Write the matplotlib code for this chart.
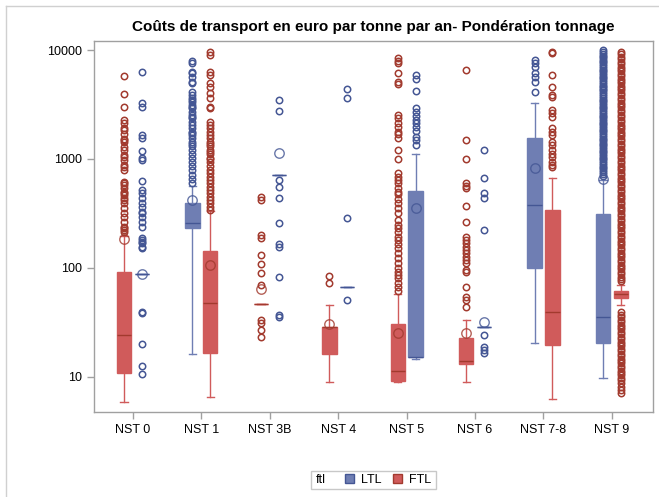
import matplotlib
matplotlib.use("Agg")
import matplotlib.pyplot as plt
from matplotlib.patches import Patch, Rectangle
from matplotlib.lines import Line2D

plt.rcParams['font.family'] = ['Liberation Sans', 'DejaVu Sans']

categories = ['NST 0', 'NST 1', 'NST 3B', 'NST 4', 'NST 5', 'NST 6', 'NST 7-8', 'NST 9']
# which group SAS drew on the left of each category
ltl_first = [False, True, False, False, False, False, True, True]

# LTL box statistics
ltl_q1 = [87, 234, 711, 66.3, 15.3, 28.8, 98.9, 20.6]
ltl_med = [87, 256, 711, 66.3, 15.3, 28.8, 378, 35.6]
ltl_q3 = [87, 396, 711, 66.3, 507, 28.8, 1570, 310]
ltl_lo = [87, 16.1, 711, 66.3, 14.6, 28.8, 20.6, 9.8]
ltl_hi = [87, 560, 711, 66.3, 1120, 28.8, 3240, 640]
ltl_mean = [87, 420, 1140, None, 352, 32, 832, 650]
ltl_fliers = [
    [6320, 3240, 3020, 1660, 1570, 1180, 1010, 977, 631, 518, 483, 435, 391, 365, 328,
     316, 295, 265, 235, 187, 180, 174, 168, 156, 151, 39.5, 38.2, 20.2, 12.5, 10.7],
    [7980, 7550, 6320, 6110, 5690, 5120, 4940, 4150, 3870, 3600, 3480, 3360, 3130, 3020,
     2920, 2720, 2530, 2440, 2360, 2200, 2050, 1910, 1780, 1720, 1660, 1550, 1440, 1380,
     1310, 1210, 1120, 1030, 944, 861, 791, 711, 650, 597],
    [3480, 2770, 640, 556, 435, 256, 166, 154, 83, 36.9, 35.1],
    [4350, 3600, 285, 50.6],
    [5900, 5380, 4240, 2920, 2720, 2480, 2280, 2120, 1950, 1810, 1600, 1490, 1340],
    [1210, 673, 490, 435, 222, 24.2, 18.9, 17.6, 16.6],
    [8090, 7650, 7030, 6200, 5690, 5120, 4150],
    [9900, 9550, 9200, 8900, 8600, 8300, 8000, 7700, 7400, 7100, 6850, 6600, 6350, 6100,
     5900, 5700, 5500, 5300, 5100, 4900, 4700, 4550, 4400, 4250, 4100, 3950, 3800, 3650,
     3500, 3380, 3260, 3140, 3020, 2910, 2800, 2700, 2600, 2500, 2410, 2320, 2240, 2160,
     2080, 2000, 1930, 1860, 1790, 1720, 1660, 1600, 1540, 1480, 1430, 1380, 1330, 1280,
     1230, 1190, 1150, 1110, 1070, 1030, 990, 955, 920, 885, 850, 820, 790, 760, 730, 700],
]

# FTL box statistics
ftl_q1 = [10.9, 16.4, 47, 16.1, 9.2, 13.1, 19.4, 52.5]
ftl_med = [24, 47.2, 47, 28.4, 11.3, 13.9, 39.5, 57]
ftl_q3 = [91, 143, 47, 28.4, 30.7, 22.9, 340, 61.7]
ftl_lo = [5.9, 6.5, 47, 9.0, 9.0, 9.0, 6.3, 45.6]
ftl_hi = [195, 330, 47, 45.6, 58, 33.2, 664, 69.5]
ftl_mean = [184, 106, 63.5, 30.5, 25.3, 25, None, None]
ftl_fliers = [
    [5770, 3920, 3020, 2280, 2120, 1910, 1840, 1680, 1520, 1490, 1440, 1280, 1210, 1090,
     1050, 977, 880, 849, 791, 618, 597, 576, 537, 500, 483, 467, 435, 420, 391, 352, 316,
     295, 265, 239, 230, 222, 215],
    [9660, 9000, 6320, 5900, 4940, 4600, 4000, 3600, 3020, 2920, 2200, 2050, 1910, 1780,
     1660, 1550, 1440, 1380, 1310, 1210, 1160, 1120, 1030, 990, 944, 861, 791, 738, 687,
     640, 597, 556, 518, 483, 450, 420, 391, 365, 340],
    [450, 420, 200, 187, 131, 108, 89, 69.5, 33, 31.5, 27, 23.3],
    [84, 73],
    [8390, 7980, 7550, 6110, 5120, 4840, 2530, 2360, 2120, 1950, 1780, 1680, 1570, 1210,
     991, 738, 687, 640, 597, 537, 500, 473, 426, 391, 352, 316, 275, 247, 230, 215, 193,
     180, 166, 151, 136, 122, 110, 98.9, 92.1, 85.8, 80, 73, 67.1, 61.7],
    [6540, 1490, 998, 605, 564, 537, 370, 265, 191, 180, 168, 156, 146, 136, 127, 118, 110,
     95.5, 92, 67, 53.6, 50.6, 43.4],
    [9660, 9320, 5900, 4600, 3870, 3680, 2810, 2620, 2440, 1910, 1780, 1660, 1440, 1340,
     1210, 1120, 1050, 944, 880, 849],
    [9600, 9100, 8650, 8200, 7800, 7400, 7050, 6700, 6350, 6050, 5750, 5450, 5200, 4950,
     4700, 4450, 4250, 4030, 3830, 3640, 3460, 3290, 3120, 2970, 2820, 2680, 2550, 2420,
     2300, 2180, 2070, 1970, 1870, 1780, 1690, 1610, 1530, 1450, 1380, 1310, 1245, 1185,
     1125, 1070, 1015, 965, 915, 870, 825, 785, 745, 710, 675, 640, 610, 580, 550, 522,
     496, 471, 448, 425, 404, 384, 365, 347, 330, 313, 298, 283, 269, 255, 243, 231, 219,
     208, 198, 188, 178, 170, 161, 153, 145, 138, 131, 125, 119, 113, 107, 102, 97, 92, 87,
     83, 79, 75,
     39, 37, 35.2, 33.4, 31.7, 30.1, 28.6, 27.2, 25.8, 24.5, 23.3, 22.1, 21, 20, 19, 18,
     17.1, 16.3, 15.5, 14.7, 14, 13.3, 12.6, 12, 11.4, 10.8, 10.3, 9.8, 9.3,
     8.7, 8.1, 7.6, 7.1],
]

blue_fill, blue_dark = '#6F7EB3', '#445694'
red_fill, red_dark = '#D05B5B', '#A23A2E'
grid_gray = '#A0A0A0'

fig = plt.figure(figsize=(6.59, 4.97), dpi=100)
ax = fig.add_axes([0.1426, 0.1716, 0.8482, 0.7449])

off = 0.13
width = 0.21


def draw_group(q1, med, q3, lo, hi, mean, fliers, left, fill, dark):
    pos = [i - off if l else i + off for i, l in enumerate(left)]
    stats = [dict(q1=a, med=b, q3=c, whislo=d, whishi=e, fliers=f)
             for a, b, c, d, e, f in zip(q1, med, q3, lo, hi, fliers)]
    ax.bxp(stats, positions=pos, widths=width, patch_artist=True, showmeans=False,
           boxprops=dict(facecolor=fill, edgecolor=fill, linewidth=1),
           medianprops=dict(color=dark, linewidth=1),
           whiskerprops=dict(color=fill, linewidth=1),
           capprops=dict(color=fill, linewidth=1),
           flierprops=dict(marker='o', markerfacecolor='none', markeredgecolor=dark,
                           markersize=4.6, markeredgewidth=1.1))
    mx = [p for p, m in zip(pos, mean) if m is not None]
    my = [m for m in mean if m is not None]
    ax.plot(mx, my, 'o', mfc='none', mec=dark, ms=6.8, mew=1.0, ls='none', alpha=0.8)


draw_group(ltl_q1, ltl_med, ltl_q3, ltl_lo, ltl_hi, ltl_mean, ltl_fliers,
           ltl_first, blue_fill, blue_dark)
draw_group(ftl_q1, ftl_med, ftl_q3, ftl_lo, ftl_hi, ftl_mean, ftl_fliers,
           [not v for v in ltl_first], red_fill, red_dark)

ax.set_yscale('log')
ax.set_ylim(4.78, 11970)
ax.set_xlim(-0.57, 7.6)
ax.set_yticks([10, 100, 1000, 10000])
ax.set_yticklabels(['10', '100', '1000', '10000'])
ax.yaxis.set_minor_locator(matplotlib.ticker.NullLocator())
ax.set_xticks(range(len(categories)))
ax.set_xticklabels(categories)
ax.tick_params(axis='both', colors=grid_gray, labelcolor='black', labelsize=9,
               length=5, width=1)
for s in ax.spines.values():
    s.set_color(grid_gray)
    s.set_linewidth(1)

fig.text(373.5 / 659, 1 - 27 / 497,
         'Coûts de transport en euro par tonne par an- Pondération tonnage',
         ha='center', va='center', fontsize=11, fontweight='bold')

# legend: "ftl" label, then the two groups, inside a thin frame
fig.add_artist(Rectangle((311 / 659, 1 - 489 / 497), 125 / 659, 18.5 / 497,
                         transform=fig.transFigure, fill=False, ec='#C8C8C8', lw=1))
fig.text(316 / 659, 1 - 480 / 497, 'ftl', ha='left', va='center', fontsize=9)
handles = [Patch(facecolor=blue_fill, edgecolor=blue_dark),
           Patch(facecolor=red_fill, edgecolor=red_dark)]
fig.legend(handles, ['LTL', 'FTL'], ncol=2, loc='center',
           bbox_to_anchor=(388 / 659, 1 - 480 / 497), frameon=False, fontsize=9,
           handlelength=0.7, handleheight=0.7, handletextpad=0.6, columnspacing=0.9)

# outer frame of the graph area
fig.add_artist(Line2D([6 / 659, 1.0], [1 - 6 / 497] * 2, transform=fig.transFigure,
                      color='#D0D0D0', lw=1))
fig.add_artist(Line2D([6 / 659] * 2, [0, 1 - 6 / 497], transform=fig.transFigure,
                      color='#D0D0D0', lw=1))

fig.savefig('out.png', dpi=100)
